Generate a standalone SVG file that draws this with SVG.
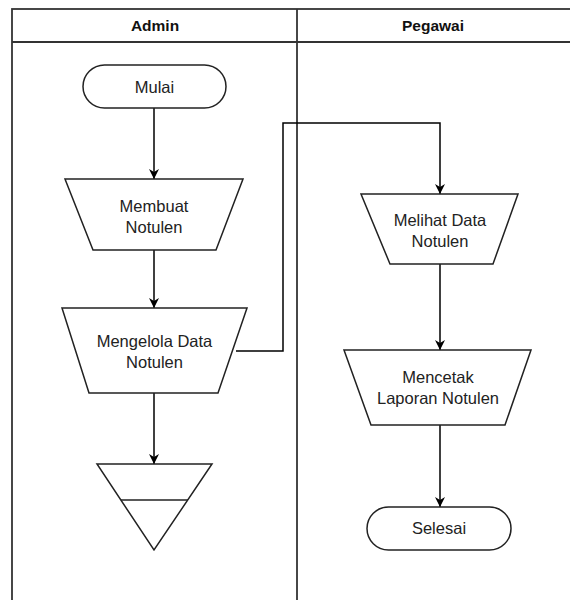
<svg xmlns="http://www.w3.org/2000/svg" width="570" height="600" viewBox="0 0 570 600">
<defs>
<marker id="ah" viewBox="0 0 10 10" refX="10" refY="5" markerWidth="10" markerHeight="10" markerUnits="userSpaceOnUse" orient="auto">
<path d="M0,0 L10,5 L0,10 L3,5 Z" fill="#000"/>
</marker>
<style>
.lane{fill:none;stroke:#333;stroke-width:1.8}
.hd{font-family:"Liberation Sans",Arial,sans-serif;font-size:15.5px;font-weight:bold;fill:#111;text-anchor:middle}
.shape{fill:#fff;stroke:#222;stroke-width:1.5}
.lbl{font-family:"Liberation Sans",Arial,sans-serif;font-size:16.5px;fill:#222;text-anchor:middle}
.edge{fill:none;stroke:#000;stroke-width:1.5;marker-end:url(#ah)}
</style>
</defs>
<rect width="570" height="600" fill="#fff"/>
<g id="pool">
<rect class="lane" x="12" y="9" width="570" height="600"/>
<line class="lane" x1="12" y1="42" x2="570" y2="42"/>
<line class="lane" x1="297" y1="9" x2="297" y2="600"/>
<text class="hd" x="155" y="31">Admin</text>
<text class="hd" x="433" y="31">Pegawai</text>
</g>
<g id="edges">
<path class="edge" d="M154,108 L154,179"/>
<path class="edge" d="M154,250 L154,308"/>
<path class="edge" d="M154,393 L154,464"/>
<path class="edge" d="M236,351 L283,351 L283,123 L440,123 L440,194"/>
<path class="edge" d="M440,264 L440,350"/>
<path class="edge" d="M440,425 L440,507"/>
</g>
<g id="mulai">
<rect class="shape" x="83" y="65" width="143" height="43" rx="21.5"/>
<text class="lbl" x="154.5" y="93">Mulai</text>
</g>
<g id="membuat">
<polygon class="shape" points="65,179 243,179 216,250 93,250"/>
<text class="lbl" x="154" y="212">Membuat</text>
<text class="lbl" x="154" y="233">Notulen</text>
</g>
<g id="mengelola">
<polygon class="shape" points="62,308 247,308 218,393 89,393"/>
<text class="lbl" x="154.5" y="347">Mengelola Data</text>
<text class="lbl" x="154.5" y="368">Notulen</text>
</g>
<g id="arsip">
<polygon class="shape" points="97,464 212,464 154,550"/>
<line class="shape" x1="121" y1="500" x2="188" y2="500"/>
</g>
<g id="melihat">
<polygon class="shape" points="361,194 518,194 493,264 390,264"/>
<text class="lbl" x="440" y="226">Melihat Data</text>
<text class="lbl" x="440" y="247">Notulen</text>
</g>
<g id="mencetak">
<polygon class="shape" points="344,350 531,350 505,425 371,425"/>
<text class="lbl" x="438" y="383">Mencetak</text>
<text class="lbl" x="438" y="404">Laporan Notulen</text>
</g>
<g id="selesai">
<rect class="shape" x="367" y="507" width="144" height="43" rx="21.5"/>
<text class="lbl" x="439" y="534">Selesai</text>
</g>
</svg>
